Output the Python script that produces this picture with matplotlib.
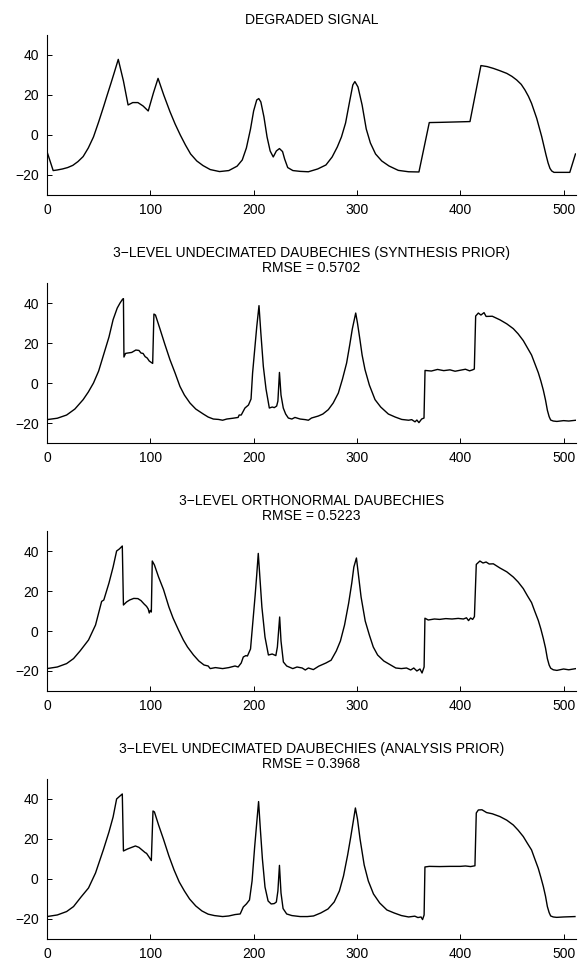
#Wavelet deblurring results - degraded signal and three restorations
#values

import matplotlib
matplotlib.use("Agg")
from matplotlib import pyplot as plt

plt.rcParams['font.family'] = ['Liberation Sans', 'DejaVu Sans']

#1. data: one (x, y) pair of lists per panel
deg_x = [0, 6, 10, 15, 20, 25, 30, 35, 40, 45, 50, 55, 58, 62, 65, 69, 74, 78.5,
         83, 88, 93, 98, 103, 107.5, 113, 119, 124, 129, 134, 139, 145, 151,
         158, 167, 176, 184, 189, 193, 197, 200, 203, 205, 207, 210, 213, 216,
         219, 222, 225, 228, 230, 233, 238, 245, 253, 262, 270, 276, 281, 285,
         289, 293, 296, 298, 301, 305, 309, 313, 318, 324, 331, 340, 350, 360,
         370, 380, 395, 409.4, 420, 426, 432, 438, 445, 450, 454.6, 459, 462.6,
         466, 469, 474, 478.8, 483, 485, 486.8, 488.5, 490.7, 506, 511.5]
deg_y = [-8.3, -17.8, -17.5, -17, -16.3, -15.2, -13.3, -10.8, -6.5, -1, 6.5, 14.5,
         19.5, 26, 31, 37.8, 27, 15, 16.2, 16.2, 14.5, 12, 21, 28.3, 20, 11.7,
         5.5, 0, -5, -9.5, -13, -15.3, -17.3, -18.3, -17.8, -15.6, -12.5, -6.5,
         3, 12, 17.5, 18.2, 16.5, 9, -1, -8, -11, -8, -6.8, -8.3, -12, -16.3,
         -17.8, -18.2, -18.4, -17, -15, -11, -6, -1, 6, 17, 25, 26.7, 24, 15, 3,
         -4, -9.5, -13, -15.5, -17.7, -18.4, -18.5, 6.2, 6.3, 6.5, 6.7, 34.7,
         34.2, 33.3, 32.2, 30.8, 29.3, 27.5, 25.3, 22.5, 19.3, 15.8, 8.3, -0.8,
         -10, -14, -16.7, -18, -18.7, -18.7, -9.5]

syn_x = [0, 10, 19, 27, 35, 40, 45, 50, 55, 60, 64, 68, 70.7, 73, 74, 74.5, 76,
         78, 82, 86, 89, 91, 93, 95, 97, 99, 101, 102.3, 103.5, 105, 109.4, 114,
         119, 124, 128.7, 133, 138.4, 144, 151.3, 156, 161, 166, 170, 174, 180,
         185, 186, 188, 191.6, 195, 197.5, 199, 201.3, 203, 205.2, 207, 209.4,
         212, 215.2, 218, 220, 222.3, 223.5, 225, 226.5, 228.7, 231, 233.6,
         237, 240, 245, 250, 253, 256, 262.6, 267, 272.3, 277, 282, 286, 290,
         293, 295.5, 298.8, 300.5, 302.9, 305, 307.8, 312, 317.5, 323, 330.4,
         337, 343.3, 350, 353, 356.2, 358, 360, 362.6, 364.9, 365.9, 372, 378,
         384, 390, 395, 400, 405, 409, 412, 413.6, 414.9, 417.5, 420, 423, 425,
         431, 438.4, 445, 451.3, 456, 461, 465, 469, 472, 475.5, 478, 480.4,
         482.5, 484.3, 486, 487.5, 490, 493.5, 500, 505, 512]
syn_y = [-18.3, -17.6, -16, -13, -8.3, -4.5, 0, 6, 14.5, 23, 31.7, 37.5, 40, 41.8,
         42.2, 13, 14.8, 15, 15.3, 16.5, 16.3, 15, 14.8, 13.2, 12.5, 11, 10.3,
         9.8, 34.5, 34, 27, 19.5, 11.7, 5, -1.7, -6, -10, -13, -15.5, -17, -18,
         -18.2, -18.6, -18, -17.6, -17.2, -16, -16, -12.5, -11, -8, 5, 18.3, 28,
         38.7, 25, 8.3, -3, -12.5, -12, -12.3, -11.5, -9, 5.3, -6, -12.5, -15.5,
         -17.5, -18, -17.2, -18, -18.3, -18.6, -17.5, -16.5, -15.5, -13.3, -10,
         -5, 2, 10, 19, 27, 35, 30, 21.7, 14, 6.7, -1, -8.3, -12, -15.5, -17,
         -18.2, -18.6, -18.3, -19.4, -18.5, -19.8, -18, -17.5, 6.3, 6, 6.8, 6.2,
         6.6, 5.9, 6.4, 6.9, 6.1, 6.6, 7, 33.5, 35, 34, 35.2, 33.3, 33.4, 31.6,
         29.6, 27.2, 24.6, 21.2, 17.6, 14, 10, 5.2, 1, -3.6, -8.5, -13.6, -16.8,
         -18.5, -19, -19.2, -18.8, -19, -18.6]

ort_x = [0, 10, 19, 25.7, 32, 40.2, 47, 52.9, 55, 60, 64, 67.4, 70, 72.9, 74, 77,
         80, 84, 88, 91, 94, 96.4, 98, 99, 100, 101, 101.9, 104, 108, 112.8,
         118, 122, 127.3, 132, 136, 141.8, 147, 152, 156, 158, 163, 170, 176,
         182, 185, 188, 190, 192.5, 194, 197, 199, 201.5, 203, 204.5, 206, 208,
         211, 214.3, 218, 221.5, 223, 225.2, 226.5, 228.8, 232, 237.9, 242,
         247, 250, 253, 257.8, 263, 270, 275, 280, 284, 288, 292, 295, 297,
         299.5, 301.5, 304, 308, 312, 315.8, 320, 326, 331, 337.6, 343, 348,
         352, 355, 358, 361, 363, 365, 365.8, 369, 375, 380, 386, 392, 398,
         403, 406, 408, 410, 412, 413.7, 415.5, 419, 422, 425, 428, 432, 438.4,
         445, 451.3, 456, 461, 465, 469, 472, 475.5, 478, 480.4, 482.5, 484.3,
         486, 487.5, 490, 493.5, 500, 505, 512]
ort_y = [-18.8, -18, -16.3, -13.8, -10, -4.5, 3, 14.8, 15.5, 24, 32, 40, 41, 42.5,
         13, 14.5, 15.5, 16.3, 16.2, 15.2, 13.5, 12.3, 11, 9, 10.3, 9.5, 35, 33,
         27, 20.7, 12, 6.5, 0.5, -4.5, -8, -12, -15, -17, -17.5, -18.8, -18.3,
         -18.8, -18.3, -17.5, -18, -16, -13, -12.3, -12.5, -9, 3, 18, 28, 38.8,
         27, 12, -3, -12, -11.5, -12.3, -8, 7, -5, -15.5, -17.5, -18.8, -18,
         -18.5, -19.5, -18.5, -19.3, -17.6, -16, -14.6, -10, -5, 3, 14, 24, 32,
         36.5, 28, 17, 5, -2, -8, -12, -15, -16.5, -18.5, -18.8, -18.5, -19.5,
         -18.5, -20, -19, -21, -18, 6.4, 5.5, 6, 5.8, 6.2, 6, 6.3, 6, 6.6, 5.2,
         6.5, 5.8, 7.2, 33.3, 35, 34, 34.5, 33.5, 33.6, 31.5, 29.6, 27, 24.5,
         21.2, 17.6, 14.2, 10, 5.3, 1, -3.8, -8.5, -13.8, -17, -18.6, -19.4,
         -19.7, -19, -19.4, -18.8]

ana_x = [0, 10, 19, 25.7, 33, 40.2, 47, 54.7, 60, 64, 67.4, 70, 72.9, 74, 78, 82,
         85.6, 89, 92, 95, 96.4, 99, 101, 102.6, 104, 108, 112.8, 118, 123, 128,
         133, 138, 144, 150, 156, 162, 170, 176, 182, 187, 190, 193, 196, 198.5,
         201, 203, 204.8, 206.5, 208.5, 211, 214, 217, 220, 222, 223.5, 225,
         226.5, 228.5, 232, 237, 245, 252, 258, 265, 272, 278, 283, 287, 291,
         294, 296.5, 298.5, 300.5, 303, 307, 311, 316, 322, 329, 336, 343, 350,
         356, 359, 362, 363.5, 365, 365.8, 370, 380, 390, 400, 405, 410, 414.2,
         415.5, 417.5, 421, 425.5, 431, 438.4, 445, 451.3, 456, 461, 465, 469,
         472, 475.5, 478, 480.4, 482.5, 484.3, 486, 487.5, 490, 493.3, 500, 511]
ana_y = [-18.8, -18, -16.3, -13.8, -9, -4.5, 3, 14.8, 23.5, 31, 40, 41.2, 42.5, 14,
         15, 15.8, 16.5, 15.8, 14.5, 13.2, 12.8, 10.8, 9.2, 34, 33.5, 27, 19.8,
         11.5, 4.5, -1.5, -6, -10, -13.5, -16, -17.6, -18.3, -18.8, -18.5,
         -17.8, -17.5, -14, -12.5, -10.5, -1, 16, 28, 38.7, 25, 10, -4, -11,
         -12.5, -12.3, -11.5, -6, 6.8, -7, -14.8, -17.5, -18.3, -18.8, -18.8,
         -18.5, -17, -15, -11.5, -6, 1.5, 12, 21, 29, 35.5, 30, 20, 7, -1,
         -7.5, -12, -15.5, -17, -18.3, -19, -18.6, -19.3, -19, -20.3, -18, 6,
         6.3, 6.2, 6.3, 6.3, 6.5, 6.2, 6.6, 33, 34.5, 34.6, 33.2, 32.6, 31.2,
         29.4, 27, 24.4, 21.2, 17.8, 14.5, 10.2, 5.3, 0.8, -3.8, -8.6, -13.8,
         -16.8, -18.5, -19, -19.2, -19, -18.8]

titles = ['DEGRADED SIGNAL',
          '3\u2212LEVEL UNDECIMATED DAUBECHIES (SYNTHESIS PRIOR)\nRMSE = 0.5702',
          '3\u2212LEVEL ORTHONORMAL DAUBECHIES\nRMSE = 0.5223',
          '3\u2212LEVEL UNDECIMATED DAUBECHIES (ANALYSIS PRIOR)\nRMSE = 0.3968']
series = [(deg_x, deg_y), (syn_x, syn_y), (ort_x, ort_y), (ana_x, ana_y)]

#2. four stacked panels, MATLAB style (box off, ticks inside)
fig = plt.figure(figsize=(5.85, 9.69), dpi=100)
bottoms = [0.7988, 0.5428, 0.2869, 0.0310]

for b, title, (xs, ys) in zip(bottoms, titles, series):
    ax = fig.add_axes([0.0803, b, 0.9043, 0.1651])
    ax.plot(xs, ys, color='black', linewidth=1.0)
    ax.set_xlim(0, 512)
    ax.set_ylim(-30, 50)
    ax.set_xticks([0, 100, 200, 300, 400, 500])
    ax.set_yticks([-20, 0, 20, 40])
    ax.spines['top'].set_visible(False)
    ax.spines['right'].set_visible(False)
    for s in ['left', 'bottom']:
        ax.spines[s].set_linewidth(0.8)
    ax.tick_params(direction='in', length=3.5, width=0.7, labelsize=10, pad=6)
    ax.set_title(title, fontsize=10, pad=8, linespacing=1.1)

#3. save
fig.savefig('out.png', dpi=100)
